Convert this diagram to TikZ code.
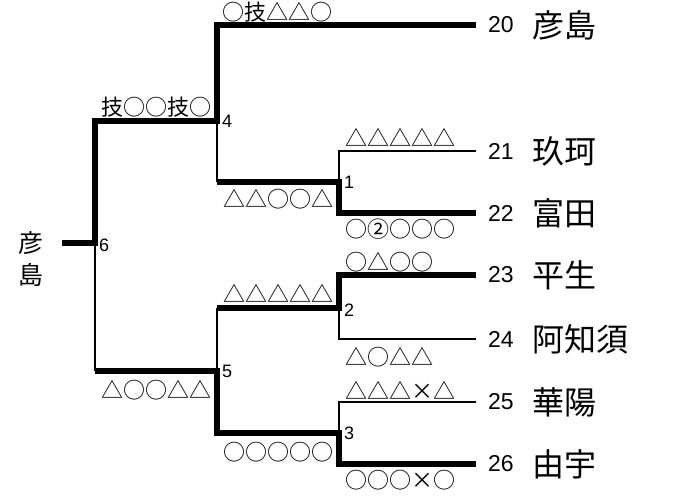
\documentclass[tikz,border=0pt]{standalone}
\usepackage{fontspec}
\setmainfont{Liberation Sans}
\newfontfamily\jpfont{Noto Sans CJK JP}
\newfontfamily\scorefont[RawFeature=+fwid]{Noto Sans CJK JP}
\usetikzlibrary{positioning}

\begin{document}
\begin{tikzpicture}[x=1pt,y=-1pt,
    win/.style={line width=5.5pt},
    lose/.style={line width=2.2pt},
    score/.style={inner sep=0pt,font=\scorefont\fontsize{22pt}{24pt}\selectfont},
    seed/.style={inner sep=0pt,font=\fontsize{23pt}{26pt}\selectfont},
    team/.style={inner sep=0pt,font=\jpfont\fontsize{32pt}{36pt}\selectfont},
    round/.style={inner sep=0pt,font=\fontsize{18pt}{20pt}\selectfont},
    champ/.style={inner sep=0pt,font=\jpfont\fontsize{25pt}{28pt}\selectfont}]
    \useasboundingbox (0,0) rectangle (685,496);
    %% 試合の点
    \coordinate (m1) at (339,182);
    \coordinate (m2) at (339,308);
    \coordinate (m3) at (339,433);
    \coordinate (m4) at (217,121);
    \coordinate (m5) at (217,371);
    \coordinate (m6) at (95,243);
    %% 勝ち上がり線の左端
    \coordinate (o1) at (217,182);
    \coordinate (o2) at (217,308);
    \coordinate (o3) at (217,433);
    \coordinate (o4) at (95,121);
    \coordinate (o5) at (95,371);
    \coordinate (o6) at (62,243);
    %% 各校の線
    \coordinate (s20) at (217,25);
    \coordinate (s21) at (339,151);
    \coordinate (s22) at (339,213);
    \coordinate (s23) at (339,275);
    \coordinate (s24) at (339,339);
    \coordinate (s25) at (339,402);
    \coordinate (s26) at (339,464);
    \coordinate[right=259pt of s20] (e20);
    \coordinate[right=137pt of s21] (e21);
    \coordinate[right=137pt of s22] (e22);
    \coordinate[right=137pt of s23] (e23);
    \coordinate[right=137pt of s24] (e24);
    \coordinate[right=137pt of s25] (e25);
    \coordinate[right=137pt of s26] (e26);
    %% 番号と校名
    \node[seed, right=12pt of e20] (n20) {20};
    \node[seed, right=12pt of e21] (n21) {21};
    \node[seed, right=12pt of e22] (n22) {22};
    \node[seed, right=12pt of e23] (n23) {23};
    \node[seed, right=12pt of e24] (n24) {24};
    \node[seed, right=12pt of e25] (n25) {25};
    \node[seed, right=12pt of e26] (n26) {26};
    \node[team, right=18pt of n20] (t20) {彦島};
    \node[team, right=18pt of n21] (t21) {玖珂};
    \node[team, right=18pt of n22] (t22) {富田};
    \node[team, right=18pt of n23] (t23) {平生};
    \node[team, right=18pt of n24] (t24) {阿知須};
    \node[team, right=18pt of n25] (t25) {華陽};
    \node[team, right=18pt of n26] (t26) {由宇};
    %% 優勝
    \node[champ, left=18pt of o6] (w1) {彦};
    \node[champ, below=8pt of w1] (w2) {島};
    % 太線 (勝者)
    \draw[win] (e20)--(s20)--(m4)--(o4)--(m6)--(o6);
    \draw[win] (e22)--(s22)--(m1)--(o1);
    \draw[win] (e23)--(s23)--(m2)--(o2);
    \draw[win] (e26)--(s26)--(m3)--(o3)--(m5)--(o5);
    % 細線 (敗者)
    \draw[lose] (e21)--(s21)--(m1);
    \draw[lose] (e24)--(s24)--(m2);
    \draw[lose] (e25)--(s25)--(m3);
    \draw[lose] (o1)--(m4);
    \draw[lose] (o2)--(m5);
    \draw[lose] (o5)--(m6);
    %% 試合番号
    \node[round, right=5pt of m1] (r1) {1};
    \node[round, right=5pt of m2, yshift=-2pt] (r2) {2};
    \node[round, right=5pt of m3] (r3) {3};
    \node[round, right=5pt of m4] (r4) {4};
    \node[round, right=5pt of m5] (r5) {5};
    \node[round, right=4pt of m6, yshift=-2pt] (r6) {6};
    %% 勝敗
    \node[score, right=5pt of s20, yshift=13pt] (k20) {○技△△○};
    \node[score, right=6pt of s21, yshift=14pt] (k21) {△△△△△};
    \node[score, right=6pt of s22, yshift=-16pt] (k22) {○②○○○};
    \node[score, right=6pt of s23, yshift=13pt] (k23) {○△○○};
    \node[score, right=6pt of s24, yshift=-18pt] (k24) {△○△△};
    \node[score, right=6pt of s25, yshift=12pt] (k25) {△△△×△};
    \node[score, right=6pt of s26, yshift=-16pt] (k26) {○○○×○};
    \node[score, right=6pt of o1, yshift=-17pt] (k1) {△△○○△};
    \node[score, right=6pt of o2, yshift=15pt] (k2) {△△△△△};
    \node[score, right=6pt of o3, yshift=-19pt] (k3) {○○○○○};
    \node[score, right=6pt of o4, yshift=14pt] (k4) {技○○技○};
    \node[score, right=6pt of o5, yshift=-19pt] (k5) {△○○△△};
\end{tikzpicture}
\end{document}
